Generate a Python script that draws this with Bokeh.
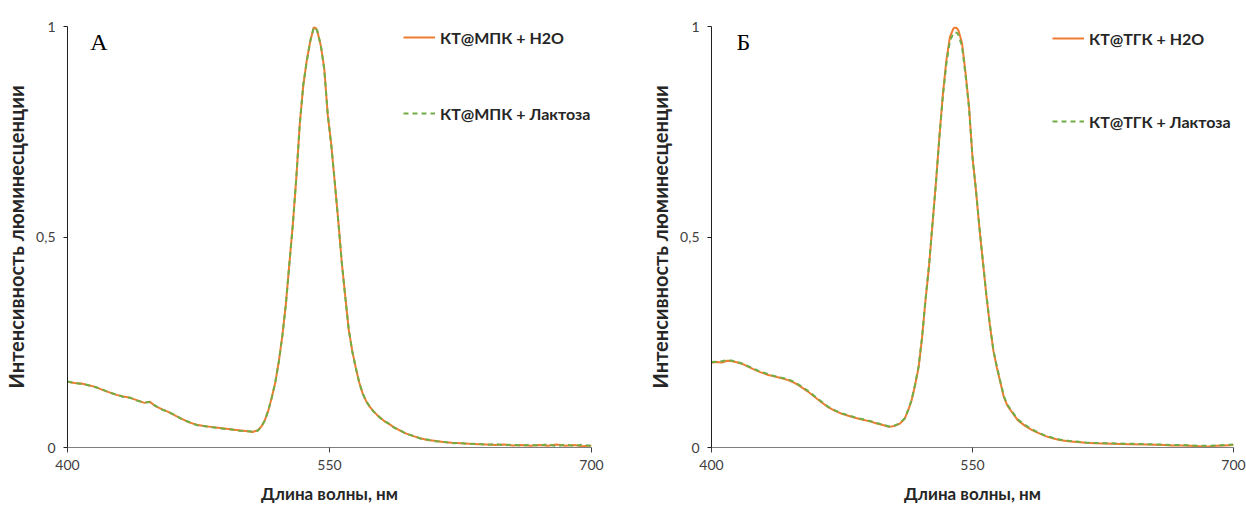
from bokeh.plotting import figure
from bokeh.models import Range1d, FixedTicker, Legend, LegendItem, Label
from bokeh.layouts import row
from bokeh.embed import file_html
from bokeh.resources import INLINE

# ---------------- data ----------------
x_ticks = [400, 550, 700]
y_ticks = [0, 0.5, 1]
y_tick_labels = {0: "0", 0.5: "0,5", 1: "1"}
x_label = "Длина волны, нм"
y_label = "Интенсивность люминесценции"

names_a = ["КТ@МПК + H2O", "КТ@МПК + Лактоза"]
names_b = ["КТ@ТГК + H2O", "КТ@ТГК + Лактоза"]

wl_a = [400, 404, 408, 412, 416, 420, 424, 428, 432, 436, 440, 444,
        447, 450, 454, 458, 462, 466, 470, 474, 478, 482, 486, 490,
        494, 498, 502, 506, 509, 511, 513, 515, 517, 519, 521, 523,
        525, 527, 529, 531, 533, 535, 537, 539, 541, 542, 543, 545,
        547, 549, 551, 553, 555, 557, 559, 561, 563, 565, 567, 569,
        571, 573, 575, 578, 581, 584, 587, 590, 594, 598, 602, 606,
        610, 615, 620, 625, 630, 635, 640, 645, 650, 655, 660, 665,
        670, 675, 680, 685, 690, 695, 700]
h2o_a = [0.156, 0.153, 0.152, 0.148, 0.144, 0.137, 0.131, 0.125, 0.121, 0.118, 0.112, 0.106,
         0.109, 0.099, 0.091, 0.084, 0.075, 0.067, 0.059, 0.054, 0.051, 0.049, 0.047, 0.045,
         0.043, 0.041, 0.039, 0.037, 0.041, 0.050, 0.065, 0.088, 0.120, 0.155, 0.205, 0.265,
         0.340, 0.435, 0.530, 0.640, 0.770, 0.860, 0.920, 0.965, 0.998, 0.997, 0.990, 0.955,
         0.900, 0.790, 0.720, 0.630, 0.540, 0.440, 0.360, 0.280, 0.230, 0.190, 0.155, 0.128,
         0.110, 0.097, 0.087, 0.074, 0.064, 0.056, 0.048, 0.041, 0.033, 0.027, 0.022, 0.018,
         0.016, 0.013, 0.011, 0.010, 0.009, 0.008, 0.007, 0.006, 0.007, 0.005, 0.006, 0.004,
         0.006, 0.004, 0.007, 0.004, 0.006, 0.003, 0.005]
lac_a = [0.157, 0.153, 0.151, 0.148, 0.143, 0.138, 0.130, 0.126, 0.120, 0.118, 0.111, 0.107,
         0.108, 0.100, 0.090, 0.084, 0.076, 0.066, 0.060, 0.053, 0.051, 0.048, 0.047, 0.044,
         0.043, 0.040, 0.039, 0.038, 0.040, 0.050, 0.064, 0.089, 0.119, 0.156, 0.204, 0.266,
         0.338, 0.436, 0.528, 0.642, 0.768, 0.862, 0.918, 0.966, 0.997, 0.998, 0.989, 0.956,
         0.898, 0.792, 0.718, 0.632, 0.538, 0.442, 0.358, 0.282, 0.228, 0.191, 0.154, 0.129,
         0.109, 0.098, 0.086, 0.075, 0.063, 0.057, 0.047, 0.042, 0.032, 0.028, 0.021, 0.019,
         0.015, 0.014, 0.010, 0.011, 0.008, 0.009, 0.006, 0.008, 0.005, 0.007, 0.004, 0.007,
         0.004, 0.008, 0.003, 0.007, 0.004, 0.007, 0.003]

wl_b = [400, 403, 406, 409, 412, 415, 418, 421, 424, 428, 432, 436,
        440, 444, 448, 451, 455, 459, 463, 467, 471, 475, 479, 483,
        487, 491, 495, 499, 502, 505, 508, 511, 513, 515, 517, 519,
        521, 523, 525, 527, 529, 531, 533, 535, 537, 539, 540, 541,
        542, 544, 546, 548, 550, 552, 554, 556, 558, 560, 562, 564,
        566, 568, 570, 573, 576, 580, 584, 588, 592, 596, 600, 605,
        610, 615, 620, 630, 640, 650, 660, 665, 670, 675, 680, 685,
        690, 695, 700]
h2o_b = [0.201, 0.203, 0.202, 0.206, 0.205, 0.202, 0.198, 0.192, 0.186, 0.179, 0.173, 0.169,
         0.165, 0.160, 0.153, 0.145, 0.134, 0.121, 0.108, 0.096, 0.087, 0.080, 0.075, 0.070,
         0.066, 0.062, 0.057, 0.053, 0.049, 0.051, 0.056, 0.068, 0.088, 0.112, 0.148, 0.190,
         0.260, 0.350, 0.430, 0.530, 0.630, 0.740, 0.840, 0.920, 0.975, 0.995, 0.998, 0.996,
         0.990, 0.960, 0.890, 0.810, 0.690, 0.610, 0.520, 0.440, 0.360, 0.290, 0.230, 0.190,
         0.155, 0.120, 0.100, 0.082, 0.065, 0.052, 0.042, 0.034, 0.027, 0.022, 0.018, 0.015,
         0.013, 0.011, 0.010, 0.009, 0.008, 0.007, 0.006, 0.005, 0.005, 0.004, 0.003, 0.002,
         0.004, 0.005, 0.006]
lac_b = [0.203, 0.204, 0.205, 0.208, 0.206, 0.203, 0.199, 0.193, 0.188, 0.180, 0.175, 0.170,
         0.166, 0.162, 0.155, 0.147, 0.136, 0.123, 0.110, 0.097, 0.088, 0.081, 0.076, 0.071,
         0.067, 0.063, 0.058, 0.054, 0.050, 0.052, 0.057, 0.069, 0.089, 0.113, 0.150, 0.192,
         0.262, 0.352, 0.432, 0.532, 0.628, 0.738, 0.836, 0.912, 0.965, 0.984, 0.986, 0.985,
         0.980, 0.952, 0.884, 0.806, 0.688, 0.612, 0.522, 0.442, 0.362, 0.292, 0.232, 0.192,
         0.157, 0.122, 0.102, 0.084, 0.067, 0.054, 0.044, 0.035, 0.028, 0.023, 0.019, 0.016,
         0.014, 0.012, 0.011, 0.010, 0.009, 0.008, 0.007, 0.006, 0.006, 0.005, 0.004, 0.004,
         0.005, 0.006, 0.007]

ORANGE = "#ED7D31"
GREEN = "#70AD47"
FONT = "Lato"


def make_panel(wl, h2o, lac, names, letter, letter_x, borders, legend_loc, legend_spacing):
    left, right, top, bottom = borders
    p = figure(width=623, height=511, output_backend="svg", toolbar_location=None,
               x_range=Range1d(400, 700), y_range=Range1d(0, 1),
               min_border_left=left, min_border_right=right,
               min_border_top=top, min_border_bottom=bottom)
    p.outline_line_color = None
    p.grid.visible = False
    p.background_fill_color = "white"
    p.border_fill_color = "white"

    r1 = p.line(wl, h2o, line_color=ORANGE, line_width=2)
    r2 = p.line(wl, lac, line_color=GREEN, line_width=2, line_dash="5 4")

    xa = p.xaxis[0]
    xa.ticker = FixedTicker(ticks=x_ticks)
    xa.minor_tick_line_color = None
    xa.major_tick_in = 0
    xa.major_tick_out = 5
    xa.axis_line_color = "#7f7f7f"
    xa.major_tick_line_color = "#404040"
    xa.major_label_text_font = FONT
    xa.major_label_text_font_size = "14px"
    xa.major_label_text_color = "#404040"
    xa.major_label_standoff = 7
    xa.axis_label = x_label
    xa.axis_label_text_font = FONT
    xa.axis_label_text_font_style = "bold"
    xa.axis_label_text_font_size = "17px"
    xa.axis_label_text_color = "#262626"
    xa.axis_label_standoff = 10

    ya = p.yaxis[0]
    ya.ticker = FixedTicker(ticks=y_ticks)
    ya.major_label_overrides = y_tick_labels
    ya.minor_tick_line_color = None
    ya.major_tick_in = 0
    ya.major_tick_out = 4
    ya.axis_line_color = "#202020"
    ya.major_tick_line_color = "#202020"
    ya.major_label_text_font = FONT
    ya.major_label_text_font_size = "14px"
    ya.major_label_text_color = "#404040"
    ya.major_label_standoff = 8
    ya.axis_label = y_label
    ya.axis_label_text_font = FONT
    ya.axis_label_text_font_style = "bold"
    ya.axis_label_text_font_size = "20px"
    ya.axis_label_text_color = "#262626"
    ya.axis_label_standoff = 5

    legend = Legend(items=[LegendItem(label=names[0], renderers=[r1]),
                           LegendItem(label=names[1], renderers=[r2])],
                    location=legend_loc, orientation="vertical",
                    padding=0, margin=0, spacing=legend_spacing,
                    glyph_width=32, glyph_height=20, label_height=20,
                    label_standoff=5,
                    label_text_font=FONT, label_text_font_style="bold",
                    label_text_font_size="16px", label_text_color="#262626",
                    border_line_color=None, background_fill_alpha=0)
    p.add_layout(legend)

    p.add_layout(Label(x=letter_x, y=0.962, text=letter, text_font="Liberation Serif",
                       text_font_size="24px", text_color="#000000",
                       text_baseline="alphabetic", text_align="left"))
    return p


pa = make_panel(wl_a, h2o_a, lac_a, names_a, "А", 413.0, (67, 32, 26, 64), (336, 324), 56)
pb = make_panel(wl_b, h2o_b, lac_b, names_b, "Б", 414.4, (88, 13, 25, 62), (341, 316), 63)

layout = row(pa, pb)
open("out.html", "w").write(file_html(layout, INLINE))
